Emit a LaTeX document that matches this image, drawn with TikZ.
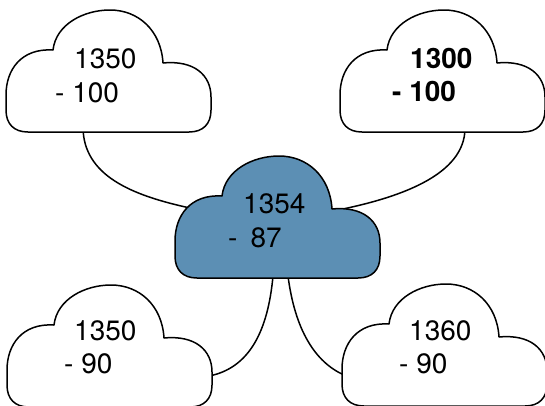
\documentclass[tikz,border=0pt]{standalone}
\usepackage{fontspec}
\setmainfont{TeX Gyre Heros}
\definecolor{cloudblue}{RGB}{92,143,180}
\tikzset{
  x=1pt, y=-1pt,
  cloudline/.style={line width=1.5pt, line join=round},
  link/.style={line width=1.5pt},
  txt/.style={anchor=base west, inner sep=0pt, font=\fontsize{28}{32}\selectfont},
  pics/cloudshape/.style={code={
    \draw[cloudline, fill=#1] (0,85) -- (0,100)
      .. controls (0,114) and (8,122) .. (22,122) -- (183,122)
      .. controls (197,122) and (205,114) .. (205,100) -- (205,87)
      .. controls (205,65) and (188,50) .. (157,53)
      .. controls (155,20) and (132,0) .. (104,0)
      .. controls (78,0) and (50,14) .. (47,40)
      .. controls (15,38) and (0,60) .. (0,85) -- cycle;
  }}
}
\begin{document}
\begin{tikzpicture}
\useasboundingbox (0,0) rectangle (545,405);
% connector endpoints
\coordinate (tlb) at (83,128);
\coordinate (trb) at (465,128);
\coordinate (cl) at (190,208);
\coordinate (cr) at (333,211);
\coordinate (cb1) at (273,276);
\coordinate (cb2) at (288,276);
\coordinate (blr) at (209,376);
\coordinate (brl) at (344,375);
% connectors
\draw[link] (tlb) .. controls (84,175) and (130,195) .. (cl);
\draw[link] (trb) .. controls (465,175) and (400,198) .. (cr);
\draw[link] (cb1) .. controls (268,330) and (250,368) .. (blr);
\draw[link] (cb2) .. controls (295,330) and (315,362) .. (brl);
% clouds
\pic at (6,10) {cloudshape=white};
\pic at (340,10) {cloudshape=white};
\pic at (175,156) {cloudshape=cloudblue};
\pic at (7,285) {cloudshape=white};
\pic at (342,284) {cloudshape=white};
% texts
\node[txt] (tl1) at (74,68) {1350};
\node[txt] (tl2) at (55,102) {- 100};
\node[txt, font=\fontsize{28}{32}\selectfont\bfseries] (tr1) at (410,68) {1300};
\node[txt, font=\fontsize{28}{32}\selectfont\bfseries] (tr2) at (392,101) {- 100};
\node[txt] (c1) at (243,213) {1354};
\node[txt] (c2) at (228,247) {-\hspace{13pt}87};
\node[txt] (bl1) at (74,340) {1350};
\node[txt] (bl2) at (64,373) {- 90};
\node[txt] (br1) at (409,340) {1360};
\node[txt] (br2) at (399,373) {- 90};
\end{tikzpicture}
\end{document}
